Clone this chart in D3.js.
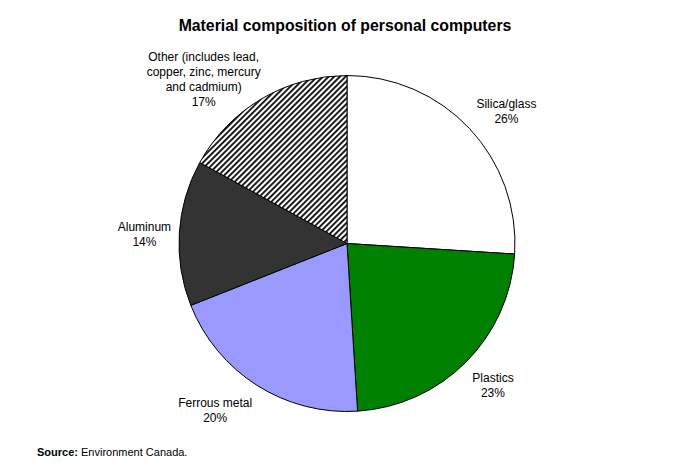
<!DOCTYPE html>
<html>
<head>
<meta charset="utf-8">
<script src="https://cdn.jsdelivr.net/npm/d3@7"></script>
<style>
  html, body { margin: 0; padding: 0; background: #fff; }
  svg { display: block; }
</style>
</head>
<body>
<div id="chart"></div>
<script>
// data
const materials = ["Silica/glass", "Plastics", "Ferrous metal", "Aluminum", "Other (includes lead,|copper, zinc, mercury|and cadmium)"];
const shares = [26, 23, 20, 14, 17];
const sliceColors = ["#ffffff", "#008000", "#9999ff", "#333333", "url(#hatch)"];

// layout
const width = 685, height = 465;
const cx = 347, cy = 243.5, radius = 168;
const labelRadius = 205;
const lineHeight = 15;
// small nudges so the label blocks sit like the original
const labelNudge = [[10, 8], [1, -3], [-22, -6], [2, 4], [-39, 12]];

const svg = d3.select("#chart")
    .append("svg")
    .attr("width", width)
    .attr("height", height);

// diagonal hatch for "Other"
const defs = svg.append("defs");
const pat = defs.append("pattern")
    .attr("id", "hatch")
    .attr("patternUnits", "userSpaceOnUse")
    .attr("width", 4)
    .attr("height", 4)
    .attr("patternTransform", "rotate(45)");
pat.append("rect").attr("width", 4).attr("height", 4).attr("fill", "#fff");
pat.append("rect").attr("x", 0).attr("width", 1.9).attr("height", 4).attr("fill", "#111");

svg.append("text")
    .attr("x", 345)
    .attr("y", 31)
    .attr("text-anchor", "middle")
    .attr("font-family", "Liberation Sans, Arial, sans-serif")
    .attr("font-size", 15.8)
    .attr("font-weight", "bold")
    .text("Material composition of personal computers");

const slices = materials.map((m, i) => ({ name: m, value: shares[i], color: sliceColors[i] }));

const pie = d3.pie()
    .sort(null)
    .value(d => d.value);

const arc = d3.arc()
    .innerRadius(0)
    .outerRadius(radius);

const labelArc = d3.arc()
    .innerRadius(labelRadius)
    .outerRadius(labelRadius);

const g = svg.append("g").attr("transform", `translate(${cx},${cy})`);

const arcs = pie(slices);

g.selectAll("path.slice")
    .data(arcs)
    .enter()
    .append("path")
    .attr("class", "slice")
    .attr("d", arc)
    .attr("fill", d => d.data.color)
    .attr("stroke", "#000")
    .attr("stroke-width", 1);

// labels
g.selectAll("text.label")
    .data(arcs)
    .enter()
    .append("text")
    .attr("class", "label")
    .attr("text-anchor", "middle")
    .attr("font-family", "Liberation Sans, Arial, sans-serif")
    .attr("font-size", 12)
    .attr("fill", "#000")
    .each(function(d, i) {
        const c = labelArc.centroid(d);
        const lines = d.data.name.split("|").concat([d.data.value + "%"]);
        const x = c[0] + labelNudge[i][0];
        const blockH = (lines.length - 1) * lineHeight;
        const y0 = c[1] + labelNudge[i][1] - blockH / 2 + 4;
        const t = d3.select(this);
        lines.forEach((ln, k) => {
            t.append("tspan")
                .attr("x", x)
                .attr("y", y0 + k * lineHeight)
                .text(ln);
        });
    });

// source note
const src = svg.append("text")
    .attr("x", 37)
    .attr("y", 456)
    .attr("font-family", "Liberation Sans, Arial, sans-serif")
    .attr("font-size", 11);
src.append("tspan").attr("font-weight", "bold").text("Source:");
src.append("tspan").text(" Environment Canada.");
</script>
</body>
</html>
